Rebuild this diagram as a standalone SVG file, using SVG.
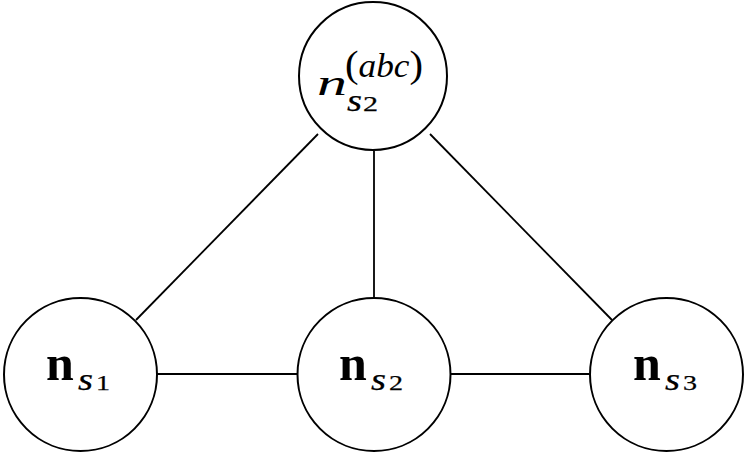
<svg xmlns="http://www.w3.org/2000/svg" width="748" height="455" viewBox="0 0 748 455">
<style>
.node{fill:#fff;stroke:#000;stroke-width:2}
.edge{stroke:#000;stroke-width:1.8;fill:none}
.bn{font-family:"Liberation Serif","DejaVu Serif",serif;font-weight:bold;font-size:50px}
.it{font-family:"Liberation Serif","DejaVu Serif",serif;font-style:italic}
.rm{font-family:"Liberation Serif","DejaVu Serif",serif}
.sub{font-family:"Liberation Serif","DejaVu Serif",serif;font-style:italic;font-size:32px;stroke:#000;stroke-width:0.25}
.dig{font-family:"Liberation Serif","DejaVu Serif",serif;font-size:21px;stroke:#000;stroke-width:0.25}
</style>
<rect width="748" height="455" fill="#fff"/>
<g id="connectors">
<line class="edge" x1="318" y1="134" x2="136" y2="320"/>
<line class="edge" x1="374" y1="151" x2="374" y2="297"/>
<line class="edge" x1="430" y1="134" x2="612" y2="320"/>
<line class="edge" x1="157" y1="374" x2="297" y2="374"/>
<line class="edge" x1="451" y1="374" x2="589" y2="374"/>
</g>
<g id="node-top">
<circle class="node" cx="373" cy="76" r="74"/>
<text class="it" x="317" y="95" font-size="36" textLength="30" lengthAdjust="spacingAndGlyphs">n</text>
<text class="sub" x="347" y="111" textLength="15" lengthAdjust="spacingAndGlyphs">s</text>
<text class="dig" x="363" y="111" font-size="23" textLength="15" lengthAdjust="spacingAndGlyphs">2</text>
<text x="345" y="77" textLength="78" lengthAdjust="spacingAndGlyphs"><tspan class="rm" font-size="38">(</tspan><tspan class="it" font-size="33">abc</tspan><tspan class="rm" font-size="38">)</tspan></text>
</g>
<g id="node-s1">
<circle class="node" cx="80.5" cy="374.5" r="76.5"/>
<text class="bn" x="46" y="380">n</text>
<text class="sub" x="78" y="390" textLength="15" lengthAdjust="spacingAndGlyphs">s</text>
<text class="dig" x="96" y="390" textLength="14" lengthAdjust="spacingAndGlyphs">1</text>
</g>
<g id="node-s2">
<circle class="node" cx="374" cy="374.5" r="76.5"/>
<text class="bn" x="339" y="380">n</text>
<text class="sub" x="371" y="390" textLength="15" lengthAdjust="spacingAndGlyphs">s</text>
<text class="dig" x="389" y="390" textLength="14" lengthAdjust="spacingAndGlyphs">2</text>
</g>
<g id="node-s3">
<circle class="node" cx="666.5" cy="374.5" r="76.5"/>
<text class="bn" x="633" y="380">n</text>
<text class="sub" x="665" y="390" textLength="15" lengthAdjust="spacingAndGlyphs">s</text>
<text class="dig" x="683" y="390" textLength="14" lengthAdjust="spacingAndGlyphs">3</text>
</g>
</svg>
